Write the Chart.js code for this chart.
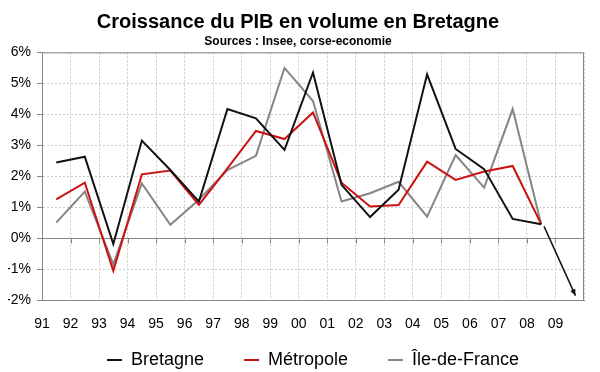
<!DOCTYPE html>
<html>
<head>
<meta charset="utf-8">
<script src="https://cdn.jsdelivr.net/npm/chart.js@4"></script>
<style>
  html, body { margin: 0; padding: 0; background: #fff; }
  #wrap { width: 600px; height: 372px; }
</style>
</head>
<body>
<div id="wrap"><canvas id="myChart" width="600" height="372"></canvas></div>
<script>
'use strict';

// years on the x axis
let years = ['91', '92', '93', '94', '95', '96', '97', '98', '99', '00',
  '01', '02', '03', '04', '05', '06', '07', '08', '09'];

// growth in %, 1991 -> 2008
let bretagne = [2.44, 2.63, -0.19, 3.15, 2.2, 1.18, 4.17, 3.87, 2.85, 5.35,
  1.72, 0.68, 1.56, 5.29, 2.88, 2.23, 0.62, 0.45];
let metropole = [1.25, 1.79, -1.06, 2.06, 2.18, 1.07, 2.25, 3.46, 3.2, 4.06,
  1.79, 1.02, 1.07, 2.47, 1.88, 2.15, 2.33, 0.45];
let ileDeFrance = [0.5, 1.5, -0.85, 1.77, 0.43, 1.24, 2.2, 2.66, 5.5, 4.43,
  1.18, 1.45, 1.82, 0.69, 2.68, 1.63, 4.17, 0.45];

// forecast arrow for 2009 (start / end)
let forecastX = [17.6, 18.7];
let forecastY = [0.38, -1.86];

let yTicks = [-2, -1, 0, 1, 2, 3, 4, 5, 6];

const FONT = "'Liberation Sans', Arial, sans-serif";
const AXIS = '#868686';

function toPoints(values) {
  let pts = [];
  for (let i = 0; i < values.length; i++) {
    pts.push({ x: i + 0.5, y: values[i] });
  }
  return pts;
}

let arrowPts = [];
for (let i = 0; i < forecastX.length; i++) {
  arrowPts.push({ x: forecastX[i], y: forecastY[i] });
}

// frame, zero line with its ticks, arrow head
const extras = {
  id: 'extras',
  beforeDatasetsDraw(chart) {
    const ctx = chart.ctx;
    const a = chart.chartArea;
    const x = chart.scales.x;
    const y = chart.scales.y;
    ctx.save();
    ctx.strokeStyle = AXIS;
    ctx.lineWidth = 1;
    ctx.beginPath();
    ctx.moveTo(a.left, a.top + 0.5);
    ctx.lineTo(a.right - 0.5, a.top + 0.5);
    ctx.lineTo(a.right - 0.5, a.bottom);
    let y0 = Math.round(y.getPixelForValue(0)) + 0.5;
    ctx.moveTo(a.left, y0);
    ctx.lineTo(a.right, y0);
    for (let i = 1; i < years.length; i++) {
      let px = Math.round(x.getPixelForValue(i)) + 0.5;
      ctx.moveTo(px, y0);
      ctx.lineTo(px, y0 + 5);
    }
    ctx.stroke();
    ctx.restore();
  },
  afterDatasetsDraw(chart) {
    const meta = chart.getDatasetMeta(3);
    const p1 = meta.data[0];
    const p2 = meta.data[1];
    const ang = Math.atan2(p2.y - p1.y, p2.x - p1.x);
    const ctx = chart.ctx;
    ctx.save();
    ctx.fillStyle = '#111';
    ctx.beginPath();
    ctx.moveTo(p2.x, p2.y);
    ctx.lineTo(p2.x - 7 * Math.cos(ang - 0.4), p2.y - 7 * Math.sin(ang - 0.4));
    ctx.lineTo(p2.x - 7 * Math.cos(ang + 0.4), p2.y - 7 * Math.sin(ang + 0.4));
    ctx.closePath();
    ctx.fill();
    ctx.restore();
  }
};

let ctx = document.getElementById('myChart').getContext('2d');
let myChart = new Chart(ctx, {
  type: 'line',
  data: {
    datasets: [{
      label: 'Bretagne',
      data: toPoints(bretagne),
      borderColor: '#111111',
      backgroundColor: '#111111',
      borderWidth: 2
    }, {
      label: 'Métropole',
      data: toPoints(metropole),
      borderColor: '#cc1111',
      backgroundColor: '#cc1111',
      borderWidth: 2
    }, {
      label: 'Île-de-France',
      data: toPoints(ileDeFrance),
      borderColor: '#858585',
      backgroundColor: '#858585',
      borderWidth: 2
    }, {
      label: 'prevision',
      data: arrowPts,
      borderColor: '#111111',
      borderWidth: 1.5
    }]
  },
  plugins: [extras],
  options: {
    responsive: false,
    animation: false,
    devicePixelRatio: 1,
    elements: {
      point: { radius: 0, hoverRadius: 0 },
      line: { tension: 0 }
    },
    layout: { padding: { left: 8, right: 12, top: 0, bottom: -7 } },
    scales: {
      x: {
        type: 'linear',
        min: 0,
        max: 19,
        afterFit: function (scale) { scale.height = 41; },
        ticks: {
          stepSize: 1,
          autoSkip: false,
          maxRotation: 0,
          padding: 16,
          color: '#000',
          font: { family: FONT, size: 14 },
          callback: function (v) { return years[v] || ''; }
        },
        grid: { color: '#cccccc', drawTicks: false },
        border: { color: AXIS, dash: [2, 2] }
      },
      y: {
        min: -2,
        max: 6,
        afterBuildTicks: function (scale) {
          scale.ticks = yTicks.map(function (v) { return { value: v }; });
        },
        afterFit: function (scale) { scale.width = 34; },
        ticks: {
          padding: 6,
          color: '#000',
          font: { family: FONT, size: 14 },
          callback: function (v) { return v + '%'; }
        },
        grid: { color: '#cccccc', tickLength: 5, tickColor: AXIS },
        border: { color: AXIS, dash: [2, 2] }
      }
    },
    plugins: {
      title: {
        display: true,
        text: 'Croissance du PIB en volume en Bretagne',
        color: '#000',
        font: { family: FONT, size: 20, weight: 'bold' },
        padding: { top: 10, bottom: 0 }
      },
      subtitle: {
        display: true,
        text: 'Sources : Insee, corse-economie',
        color: '#000',
        font: { family: FONT, size: 12, weight: 'bold' },
        padding: { top: 0, bottom: 4 }
      },
      legend: {
        position: 'bottom',
        fullSize: false,
        labels: {
          usePointStyle: true,
          pointStyle: 'line',
          pointStyleWidth: 15,
          boxHeight: 18,
          padding: 10,
          color: '#000',
          font: { family: FONT, size: 18 },
          filter: function (item) { return item.datasetIndex < 3; },
          generateLabels: function (chart) {
            let items = Chart.defaults.plugins.legend.labels.generateLabels(chart);
            // wider gap between the entries
            for (let i = 0; i < 2; i++) {
              items[i].text = items[i].text + '      ';
            }
            return items;
          }
        }
      },
      tooltip: { enabled: false }
    }
  }
});
</script>
</body>
</html>
